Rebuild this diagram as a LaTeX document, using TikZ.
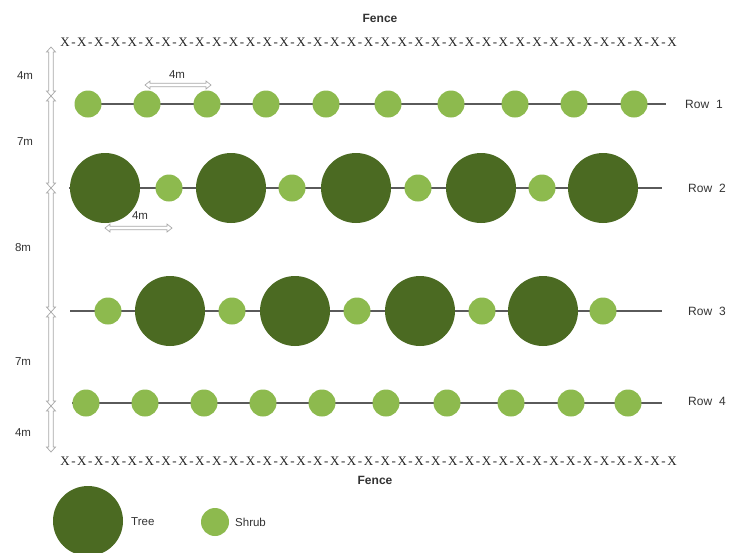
\documentclass[tikz,border=0pt]{standalone}
\usepackage{fontspec}
\setmainfont{Liberation Sans}
\newfontfamily\fenceserif{Liberation Serif}
\definecolor{treecol}{HTML}{4B6A22}
\definecolor{shrubcol}{HTML}{8DBA4E}
\definecolor{rowline}{HTML}{5A5A5A}
\definecolor{dimcol}{HTML}{A8A8A8}
\definecolor{txt}{HTML}{333333}
\tikzset{
  tree/.style={circle, fill=treecol, draw=none, minimum size=70pt, inner sep=0pt},
  shrub/.style={circle, fill=shrubcol, draw=none, minimum size=27pt, inner sep=0pt},
  rowln/.style={draw=rowline, line width=2pt},
  lbl/.style={font=\fontsize{11.5}{13}\selectfont, text=txt, inner sep=0pt},
  rowlbl/.style={font=\fontsize{12}{14}\selectfont, text=txt, inner sep=0pt, anchor=west},
  fencelbl/.style={font=\bfseries\fontsize{12}{14}\selectfont, text=txt, inner sep=0pt},
  fencex/.style={font=\fenceserif\fontsize{13}{15}\selectfont, text=black!85, inner sep=0pt, anchor=base},
  dimshape/.style={draw=dimcol, fill=white, line width=0.7pt, line join=miter},
}
\newcommand\vdimarrow[3]{%
  \draw[dimshape] (#1-2.3,#2+5) -- (#1-4.5,#2+5) -- (#1,#2) -- (#1+4.5,#2+5) -- (#1+2.3,#2+5)
    -- (#1+2.3,#3-5) -- (#1+4.5,#3-5) -- (#1,#3) -- (#1-4.5,#3-5) -- (#1-2.3,#3-5) -- cycle;}
\newcommand\hdimarrow[3]{%
  \draw[dimshape] (#1+5,#3-1.8) -- (#1+5,#3-4) -- (#1,#3) -- (#1+5,#3+4) -- (#1+5,#3+1.8)
    -- (#2-5,#3+1.8) -- (#2-5,#3+4) -- (#2,#3) -- (#2-5,#3-4) -- (#2-5,#3-1.8) -- cycle;}
\begin{document}
\begin{tikzpicture}[x=1pt,y=-1pt]
\useasboundingbox[fill=white] (0,0) rectangle (735,552);

% fences
\node[fencelbl] (fenceT) at (380,18) {Fence};
\node[fencelbl] (fenceB) at (375,480) {Fence};
\foreach \i in {0,...,36} {
  \node[fencex] (ft\i) at ({65+\i*16.86},46.3) {X};
  \node[fencex] (fb\i) at ({65+\i*16.86},465.3) {X};
}
\foreach \i in {0,...,35} {
  \node[fencex] (ftd\i) at ({73.43+\i*16.86},46.3) {-};
  \node[fencex] (fbd\i) at ({73.43+\i*16.86},465.3) {-};
}

% vertical dimension line
\vdimarrow{51}{47}{96}
\vdimarrow{51}{96}{188}
\vdimarrow{51}{188}{312}
\vdimarrow{51}{312}{406}
\vdimarrow{51}{406}{452}
\node[lbl] (d1) at (25,76) {4m};
\node[lbl] (d2) at (25,142) {7m};
\node[lbl] (d3) at (23,248) {8m};
\node[lbl] (d4) at (23,362) {7m};
\node[lbl] (d5) at (23,433) {4m};

% row lines
\coordinate (r1a) at (75,104);  \coordinate (r1b) at (666,104);
\coordinate (r2a) at (69,188);  \coordinate (r2b) at (662,188);
\coordinate (r3a) at (70,311);  \coordinate (r3b) at (662,311);
\coordinate (r4a) at (72,403);  \coordinate (r4b) at (662,403);
\draw[rowln] (r1a) -- (r1b);
\draw[rowln] (r2a) -- (r2b);
\draw[rowln] (r3a) -- (r3b);
\draw[rowln] (r4a) -- (r4b);

% row 1
\foreach \x [count=\k] in {88,147,207,266,326,388,451,515,574,634}
  \node[shrub] (r1s\k) at (\x,104) {};
% row 2
\foreach \x [count=\k] in {105,231,356,481,603}
  \node[tree] (r2t\k) at (\x,188) {};
\foreach \x [count=\k] in {169,292,418,542}
  \node[shrub] (r2s\k) at (\x,188) {};
% row 3
\foreach \x [count=\k] in {108,232,357,482,603}
  \node[shrub] (r3s\k) at (\x,311) {};
\foreach \x [count=\k] in {170,295,420,543}
  \node[tree] (r3t\k) at (\x,311) {};
% row 4
\foreach \x [count=\k] in {86,145,204,263,322,386,447,511,571,628}
  \node[shrub] (r4s\k) at (\x,403) {};

% horizontal dimensions
\hdimarrow{145}{211}{85}
\node[lbl] (h1) at (177,75) {4m};
\hdimarrow{105}{172}{228}
\node[lbl] (h2) at (140,216) {4m};

% row labels
\node[rowlbl] (row1) at (685,104) {Row\hspace{7pt}1};
\node[rowlbl] (row2) at (688,188) {Row\hspace{7pt}2};
\node[rowlbl] (row3) at (688,311) {Row\hspace{7pt}3};
\node[rowlbl] (row4) at (688,401) {Row\hspace{7pt}4};

% legend
\node[tree] (legT) at (88,521) {};
\node[lbl, anchor=west] (legTt) at (131,522) {Tree};
\node[shrub, minimum size=28pt] (legS) at (215,522) {};
\node[lbl, anchor=west] (legSt) at (235,522) {Shrub};
\end{tikzpicture}
\end{document}
